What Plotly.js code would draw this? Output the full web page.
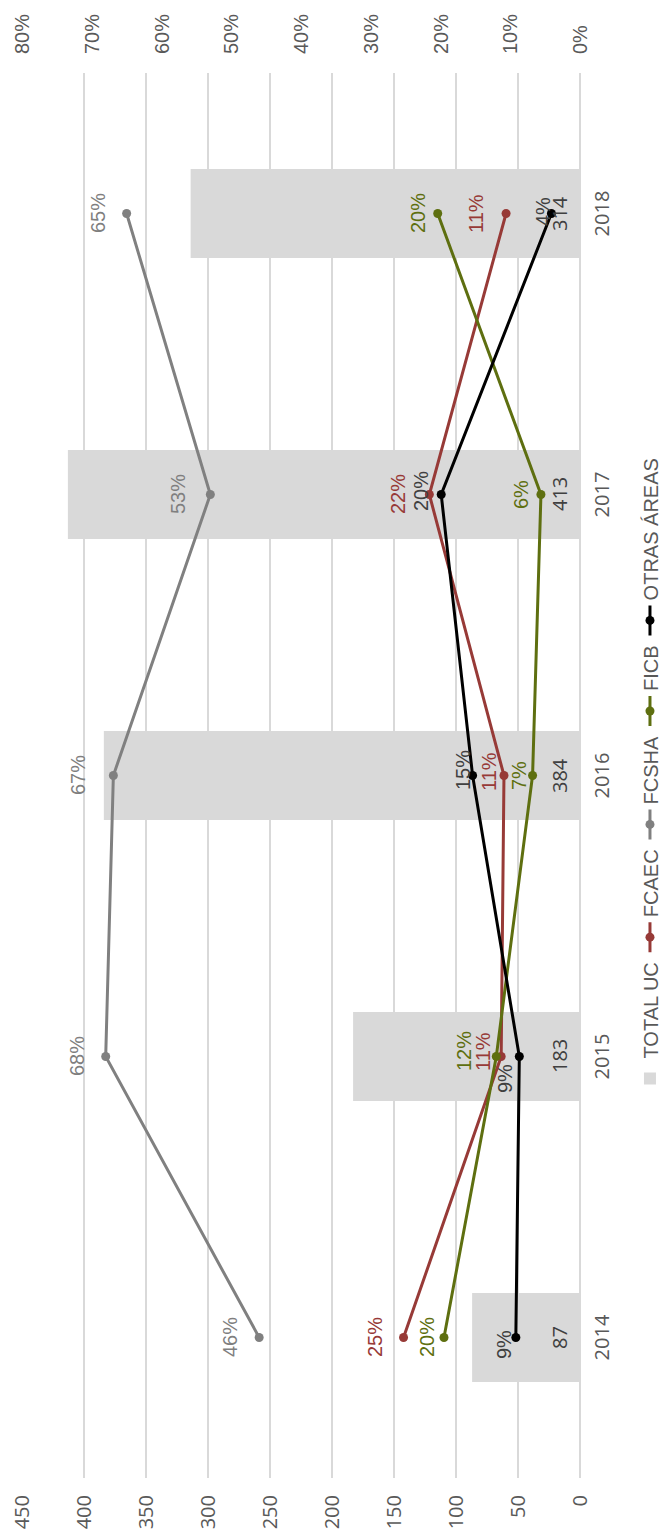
<!DOCTYPE html>
<html><head><meta charset="utf-8">
<script src="https://cdn.plot.ly/plotly-3.0.1.min.js"></script>
<style>
html,body{margin:0;padding:0;overflow:hidden;background:#fff;width:662px;height:1535px;}
#wrap{position:absolute;left:0;top:0;width:1535px;height:662px;transform-origin:0 0;}
#wrap.rot{top:1535px;transform:rotate(-90deg);}
</style></head><body>
<div id="wrap"><div id="chart" style="width:1535px;height:662px;"></div></div>
<script>
// Data
const years   = ['2014', '2015', '2016', '2017', '2018'];
const totalUC = [87, 183, 384, 413, 314];
const fcaec   = [0.253, 0.113, 0.109, 0.216, 0.106];
const fcsha   = [0.46, 0.68, 0.669, 0.53, 0.65];
const ficb    = [0.195, 0.12, 0.068, 0.056, 0.204];
const otras   = [0.092, 0.087, 0.154, 0.199, 0.041];
const seriesNames = ['TOTAL UC', 'FCAEC', 'FCSHA', 'FICB', 'OTRAS ÁREAS'];

// Styles
const pctFont = 'Liberation Sans, Arial, sans-serif';
const numFont = 'Open Sans, sans-serif';
const lineSeries = [
  {name: seriesNames[1], vals: fcaec, color: '#973a37', text: '#973a37',
   dy: [29, 18, 15, 31, 30], dx: [0, 5, 4, 0, 0]},
  {name: seriesNames[2], vals: fcsha, color: '#808080', text: '#7f7f7f',
   dy: [29, 29, 35, 32, 29], dx: [0, 0, 0, 0, 0]},
  {name: seriesNames[3], vals: ficb, color: '#5e6f10', text: '#5e6f10',
   dy: [17, 32, 14, 20, 20], dx: [0, 5, 0, 0, 0]},
  {name: seriesNames[4], vals: otras, color: '#000000', text: '#404040',
   dy: [12, 14, 10, 20, 8], dx: [-7, -22, 5, 3, 2]}
];

const traces = [{
  type: 'bar', name: seriesNames[0], x: years, y: totalUC,
  marker: {color: '#d9d9d9'}, hoverinfo: 'none'
}];
const annotations = [];

years.forEach(function (yr, i) {
  annotations.push({
    x: i, y: 0, xref: 'x', yref: 'y', yshift: 21, showarrow: false,
    text: String(totalUC[i]),
    font: {family: numFont, size: 20, color: '#404040'}
  });
});

lineSeries.forEach(function (s) {
  traces.push({
    type: 'scatter', mode: 'lines+markers', name: s.name,
    x: years, y: s.vals, yaxis: 'y2',
    line: {color: s.color, width: 3},
    marker: {color: s.color, size: 9},
    cliponaxis: false
  });
  years.forEach(function (yr, i) {
    annotations.push({
      x: i, y: s.vals[i], xref: 'x', yref: 'y2',
      xshift: s.dx[i], yshift: s.dy[i], showarrow: false,
      text: Math.round(s.vals[i] * 100) + '%',
      font: {family: pctFont, size: 20, color: s.text}
    });
  });
});

const layout = {
  width: 1535, height: 662,
  margin: {l: 57, r: 73, t: 22, b: 82, autoexpand: false},
  paper_bgcolor: '#ffffff', plot_bgcolor: '#ffffff',
  showlegend: true,
  bargap: 0.683,
  annotations: annotations,
  xaxis: {
    type: 'category', range: [-0.5, 4.5], showgrid: false, zeroline: false,
    ticks: '', showline: false, ticklabelstandoff: 8,
    tickfont: {family: numFont, size: 20, color: '#595959'}
  },
  yaxis: {
    range: [0, 450], dtick: 50, tick0: 0, showgrid: true,
    gridcolor: '#d9d9d9', gridwidth: 1.5,
    zeroline: true, zerolinecolor: '#d9d9d9', zerolinewidth: 1.5,
    showline: false, ticks: '', ticklabelstandoff: 16,
    tickfont: {family: numFont, size: 20, color: '#595959'}
  },
  yaxis2: {
    overlaying: 'y', side: 'right', range: [0, 0.8], dtick: 0.1, tick0: 0,
    tickformat: '.0%', showgrid: false, zeroline: false, showline: false,
    ticks: '', ticklabelstandoff: 18,
    tickfont: {family: pctFont, size: 20, color: '#595959'}
  },
  legend: {
    orientation: 'h', x: 0.5, xanchor: 'center', y: -0.1254, yanchor: 'middle',
    font: {family: 'Liberation Sans Narrow, Liberation Sans, sans-serif', size: 20, color: '#595959'},
    itemwidth: 30, traceorder: 'normal', bgcolor: 'rgba(0,0,0,0)'
  }
};

Plotly.newPlot('chart', traces, layout, {displayModeBar: false, staticPlot: true})
  .then(function () { document.getElementById('wrap').classList.add('rot'); });
</script>
</body></html>
